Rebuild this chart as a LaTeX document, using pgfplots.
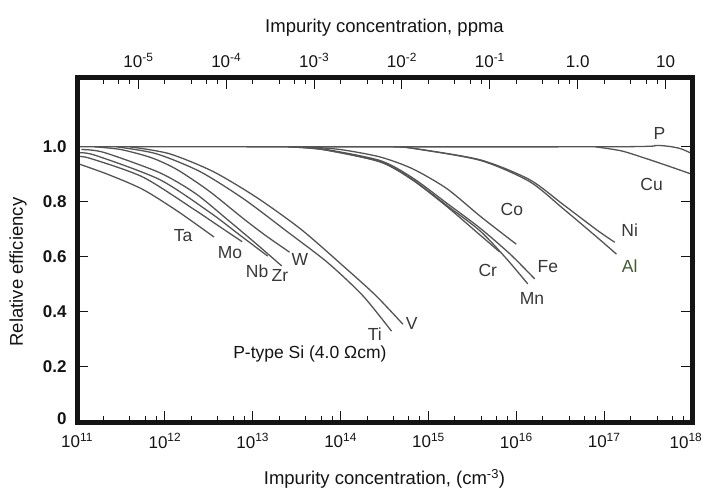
\documentclass[border=0pt]{standalone}
\usepackage{pgfplots}
\pgfplotsset{compat=1.18}
\usepackage{fontspec}
\setmainfont{Liberation Sans}

\definecolor{curve}{gray}{0.33}
\definecolor{ink}{gray}{0.08}
\definecolor{lab}{gray}{0.22}
\definecolor{alcol}{RGB}{66,88,52}

\pgfplotsset{
  elem/.style={draw=curve, line width=1.3pt, smooth, tension=0.45, no markers},
}
\tikzset{
  clab/.style={font=\fontsize{17.5}{19}\selectfont, text=lab, inner sep=0pt},
}

\begin{document}
\begin{tikzpicture}
\path[use as bounding box] (0,0) rectangle (705pt,496pt);

% lower axis: concentration in cm^-3 and relative efficiency
\begin{axis}[
  at={(77pt,74pt)}, anchor=south west,
  scale only axis, width=615pt, height=344pt,
  xmode=log, xmin=1e11, xmax=1e18,
  ymin=0, ymax=1.25,
  separate axis lines,
  axis line style={draw=none},
  xtick pos=left,
  tick align=inside,
  major tick length=11pt, minor tick length=6pt,
  every tick/.style={ink, line width=1pt},
  xtick={1e11,1e12,1e13,1e14,1e15,1e16,1e17,1e18},
  xticklabels={10\textsuperscript{11},10\textsuperscript{12},10\textsuperscript{13},10\textsuperscript{14},
               10\textsuperscript{15},10\textsuperscript{16},10\textsuperscript{17},
               \kern-6pt10\textsuperscript{18}\kern6pt},
  minor xtick={2e11,4e11,6e11,8e11,2e12,4e12,6e12,8e12,2e13,4e13,6e13,8e13,
               2e14,4e14,6e14,8e14,2e15,4e15,6e15,8e15,2e16,4e16,6e16,8e16,
               2e17,4e17,6e17,8e17},
  ytick={0,0.2,0.4,0.6,0.8,1.0},
  yticklabels={\raisebox{7pt}{0},0.2,0.4,0.6,0.8,1.0},
  xticklabel style={font=\fontsize{17}{19}\selectfont, text=ink, yshift=-8pt},
  yticklabel style={font=\fontsize{17}{19}\selectfont\bfseries, text=ink, xshift=-7pt},
  xlabel={Impurity concentration, (cm\textsuperscript{-3})},
  ylabel={Relative efficiency},
  label style={font=\fontsize{18.5}{20}\selectfont, text=ink},
  xlabel style={at={(axis description cs:0.5,-0.165)}, anchor=center},
  ylabel style={at={(axis description cs:-0.096,0.436)}, anchor=center},
  clip=false,
]

% P (flat reference line)
\addplot[elem] coordinates {(1e11,1.0) (1e17,1.0) (3.98e17,1.005) (7.08e17,0.995) (1e18,0.975)};
% Cu
\addplot[elem] coordinates {(7.94e16,1.0) (1.58e17,0.985) (3.09e17,0.956) (5.62e17,0.928) (1e18,0.9)};

% Ta, Mo, Nb, Zr, W
\addplot[elem] coordinates {(1e11,0.94) (2.24e11,0.90) (5.62e11,0.845) (1.41e12,0.765) (3.63e12,0.672)};
\addplot[elem] coordinates {(1e11,0.965) (1.41e11,0.958) (5.62e11,0.89) (2.09e12,0.775) (3.98e12,0.715) (7.59e12,0.655)};
\addplot[elem] coordinates {(1e11,0.978) (1.58e11,0.97) (8.71e11,0.881) (3.24e12,0.762) (7.08e12,0.68) (1.48e13,0.603)};
\addplot[elem] coordinates {(1.12e11,0.99) (2.0e11,0.98) (8.71e11,0.906) (2.24e12,0.83) (5.13e12,0.736) (1.12e13,0.645) (2.14e13,0.567)};
\addplot[elem] coordinates {(1.58e11,1.0) (3.16e11,0.99) (7.08e11,0.96) (1.38e12,0.917) (3.16e12,0.84) (7.76e12,0.74) (1.41e13,0.677) (2.63e13,0.617)};

% Ti, V
\addplot[elem] coordinates {(2.82e11,1.0) (7.94e11,0.975) (2.51e12,0.91) (7.94e12,0.81) (2.51e13,0.69) (7.08e13,0.58) (1.78e14,0.46) (3.80e14,0.33)};
\addplot[elem] coordinates {(3.98e11,1.0) (1.12e12,0.975) (3.55e12,0.91) (1.12e13,0.815) (3.55e13,0.70) (1.07e14,0.567) (2.51e14,0.46) (5.13e14,0.355)};

% Co
\addplot[elem] coordinates {(3.98e13,1.0) (1e14,0.99) (2.82e14,0.963) (6.61e14,0.92) (1.62e15,0.848) (3.98e15,0.745) (1e16,0.646)};
% Cr, Mn, Fe
\addplot[elem] coordinates {(2.51e13,1.0) (6.31e13,0.99) (2.82e14,0.945) (6.61e14,0.879) (1.62e15,0.783) (3.85e15,0.68) (6.46e15,0.618)};
\addplot[elem] coordinates {(2.51e13,1.0) (6.31e13,0.99) (2.82e14,0.946) (6.61e14,0.881) (1.62e15,0.787) (3.85e15,0.695) (7.41e15,0.60) (1.35e16,0.502)};
\addplot[elem] coordinates {(2.82e13,1.0) (6.31e13,0.992) (2.82e14,0.95) (6.61e14,0.887) (1.62e15,0.795) (3.85e15,0.705) (8.51e15,0.61) (1.62e16,0.52)};

% Ni, Al
\addplot[elem] coordinates {(3.98e14,1.0) (6.17e14,0.996) (3.85e15,0.953) (1.41e16,0.881) (3.39e16,0.791) (8.32e16,0.697) (1.32e17,0.653)};
\addplot[elem] coordinates {(3.98e14,1.0) (6.17e14,0.996) (3.85e15,0.951) (1.41e16,0.874) (3.39e16,0.776) (8.32e16,0.671) (1.38e17,0.61)};

% element names
\node[clab] at (axis cs:1.61e12,0.678) {Ta};
\node[clab] at (axis cs:5.5e12,0.617) {Mo};
\node[clab] at (axis cs:1.12e13,0.549) {Nb};
\node[clab] at (axis cs:2.04e13,0.531) {Zr};
\node[clab] at (axis cs:3.44e13,0.592) {W};
\node[clab] at (axis cs:2.45e14,0.321) {Ti};
\node[clab] at (axis cs:6.46e14,0.357) {V};
\node[clab] at (axis cs:8.9e15,0.773) {Co};
\node[clab] at (axis cs:4.74e15,0.549) {Cr};
\node[clab] at (axis cs:2.29e16,0.563) {Fe};
\node[clab] at (axis cs:1.51e16,0.448) {Mn};
\node[clab] at (axis cs:1.95e17,0.697) {Ni};
\node[clab, text=alcol] at (axis cs:1.95e17,0.567) {Al};
\node[clab] at (axis cs:3.47e17,0.863) {Cu};
\node[clab] at (axis cs:4.27e17,1.05) {P};
\node[clab, text=ink] at (axis cs:4.47e13,0.249) {P-type Si (4.0 Ωcm)};

% heavy frame round the plot area
\draw[ink, line width=5pt, line join=miter] (rel axis cs:0,0) rectangle (rel axis cs:1,1);
\end{axis}

% upper axis: the same concentration in ppma (5e22 atoms per cm^3)
\begin{axis}[
  at={(77pt,74pt)}, anchor=south west,
  scale only axis, width=615pt, height=344pt,
  xmode=log, xmin=2e-6, xmax=20,
  ymin=0, ymax=1.25,
  separate axis lines,
  axis line style={draw=none},
  xtick pos=right, xticklabel pos=right,
  ytick=\empty,
  tick align=inside,
  major tick length=11pt, minor tick length=6pt,
  every tick/.style={ink, line width=1pt},
  xtick={1e-5,1e-4,1e-3,1e-2,1e-1,1,10},
  xticklabels={10\textsuperscript{-5},10\textsuperscript{-4},10\textsuperscript{-3},10\textsuperscript{-2},10\textsuperscript{-1},1.0,10},
  minor xtick={4e-6,6e-6,8e-6,2e-5,4e-5,6e-5,8e-5,2e-4,4e-4,6e-4,8e-4,
               2e-3,4e-3,6e-3,8e-3,2e-2,4e-2,6e-2,8e-2,2e-1,4e-1,6e-1,8e-1,
               2,4,6,8},
  xticklabel style={font=\fontsize{17}{19}\selectfont, text=ink, yshift=7pt},
  xlabel={Impurity concentration, ppma},
  xlabel style={font=\fontsize{18.5}{20}\selectfont, text=ink, at={(axis description cs:0.5,1.145)}, anchor=center},
]
\end{axis}
\end{tikzpicture}
\end{document}
